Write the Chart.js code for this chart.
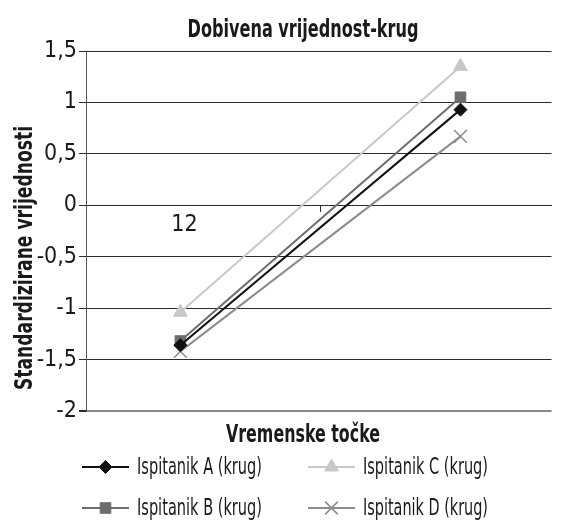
<!DOCTYPE html>
<html lang="hr">
<head>
<meta charset="utf-8">
<title>Dobivena vrijednost-krug</title>
<script src="https://cdn.jsdelivr.net/npm/chart.js@4.4.0/dist/chart.umd.min.js"></script>
<style>
  html, body { margin: 0; padding: 0; background: #fff; }
  canvas { display: block; }
</style>
</head>
<body>
<canvas id="chart" width="562" height="521"></canvas>
<script>
// podaci
const categories = ['1', '2'];
const xValues = [1, 2];
const seriesNames = ['Ispitanik A (krug)', 'Ispitanik B (krug)', 'Ispitanik C (krug)', 'Ispitanik D (krug)'];
const ispitanikA = [-1.36, 0.93];
const ispitanikB = [-1.32, 1.05];
const ispitanikC = [-1.04, 1.35];
const ispitanikD = [-1.42, 0.67];
const yTicks = [1.5, 1, 0.5, 0, -0.5, -1, -1.5, -2];

const chartTitle = 'Dobivena vrijednost-krug';
const xTitle = 'Vremenske točke';
const yTitle = 'Standardizirane vrijednosti';

const FONT = "'Liberation Sans Narrow', 'DejaVu Sans Condensed', 'Roboto', sans-serif";
const TEXT = '#1a1a1a';

const styles = [
  { color: '#111111', point: 'rectRot', radius: 6.5, bw: 1 },
  { color: '#6d6d6d', point: 'rect', radius: 7.5, bw: 1 },
  { color: '#c8c8c8', point: 'triangle', radius: 8, bw: 1 },
  { color: '#8c8c8c', point: 'crossRot', radius: 9, bw: 1.5 }
];
const legendOrder = [0, 2, 1, 3];

function toPoints(vals) {
  return vals.map((v, i) => ({ x: xValues[i], y: v }));
}

const seriesData = [ispitanikA, ispitanikB, ispitanikC, ispitanikD];
const datasets = seriesData.map((vals, i) => ({
  label: seriesNames[i],
  data: toPoints(vals),
  borderColor: styles[i].color,
  backgroundColor: styles[i].color,
  borderWidth: 2,
  pointStyle: styles[i].point,
  pointRadius: styles[i].radius,
  pointBorderWidth: styles[i].bw,
  pointBackgroundColor: styles[i].color,
  pointBorderColor: styles[i].color,
  tension: 0
}));

const textPlugin = {
  id: 'tekst',
  afterDraw(chart) {
    const ctx = chart.ctx;
    ctx.save();
    ctx.fillStyle = TEXT;
    ctx.textBaseline = 'alphabetic';
    ctx.textAlign = 'center';
    ctx.font = 'bold 24px ' + FONT;
    ctx.fillText(chartTitle, 303, 37, 231);
    ctx.fillText(xTitle, 303, 442, 154);
    ctx.save();
    ctx.translate(32, 258);
    ctx.rotate(-Math.PI / 2);
    ctx.fillText(yTitle, 0, 0, 264);
    ctx.restore();

    // legenda
    const cols = [82, 308];
    const rows = [467, 508];
    ctx.font = '23px ' + FONT;
    ctx.textAlign = 'left';
    ctx.textBaseline = 'middle';
    legendOrder.forEach((di, k) => {
      const x = cols[k % 2];
      const y = rows[Math.floor(k / 2)];
      const st = styles[di];
      ctx.strokeStyle = st.color;
      ctx.lineWidth = 2;
      ctx.beginPath();
      ctx.moveTo(x, y);
      ctx.lineTo(x + 47, y);
      ctx.stroke();
      ctx.fillStyle = st.color;
      ctx.lineWidth = st.bw;
      Chart.helpers.drawPoint(ctx, { pointStyle: st.point, radius: st.radius, rotation: 0, borderWidth: st.bw }, x + 23.5, y);
      ctx.fillStyle = TEXT;
      ctx.fillText(chart.data.datasets[di].label, x + 55, y + 1, 125);
    });
    ctx.restore();
  }
};

new Chart(document.getElementById('chart'), {
  type: 'line',
  data: { datasets },
  plugins: [textPlugin],
  options: {
    responsive: false,
    animation: false,
    layout: { padding: { left: 0, right: 0, top: 51, bottom: 110 } },
    plugins: {
      legend: { display: false },
      title: { display: false },
      tooltip: { enabled: false }
    },
    scales: {
      x: {
        type: 'linear',
        position: { y: 0 },
        min: 0.663,
        max: 2.325,
        afterBuildTicks(scale) {
          scale.ticks = [{ value: xValues[0] }, { value: (xValues[0] + xValues[1]) / 2 }];
        },
        ticks: {
          autoSkip: false,
          maxRotation: 0,
          padding: 0,
          labelOffset: 4,
          color: TEXT,
          font: { family: FONT, size: 23 },
          callback: (v) => v === xValues[0] ? categories.join('') : ''
        },
        grid: {
          drawOnChartArea: false,
          drawTicks: true,
          tickLength: 6,
          tickColor: (c) => c.tick && c.tick.value === xValues[0] ? 'rgba(0,0,0,0)' : '#2b2b2b'
        },
        border: { display: true, color: '#2b2b2b', width: 1 }
      },
      y: {
        min: yTicks[yTicks.length - 1],
        max: yTicks[0],
        afterFit(scale) { scale.width = 86; },
        afterBuildTicks(scale) {
          scale.ticks = yTicks.map(v => ({ value: v }));
        },
        ticks: {
          padding: 2,
          color: TEXT,
          font: { family: FONT, size: 23 },
          callback: (v) => String(v).replace('.', ',')
        },
        grid: {
          tickLength: 7,
          color: (c) => c.tick && c.tick.value === -2 ? '#8a8a8a' : '#2b2b2b',
          lineWidth: (c) => c.tick && c.tick.value === -2 ? 2 : 1,
          tickColor: '#2b2b2b'
        },
        border: { display: true, color: '#555555', width: 1 }
      }
    }
  }
});
</script>
</body>
</html>
